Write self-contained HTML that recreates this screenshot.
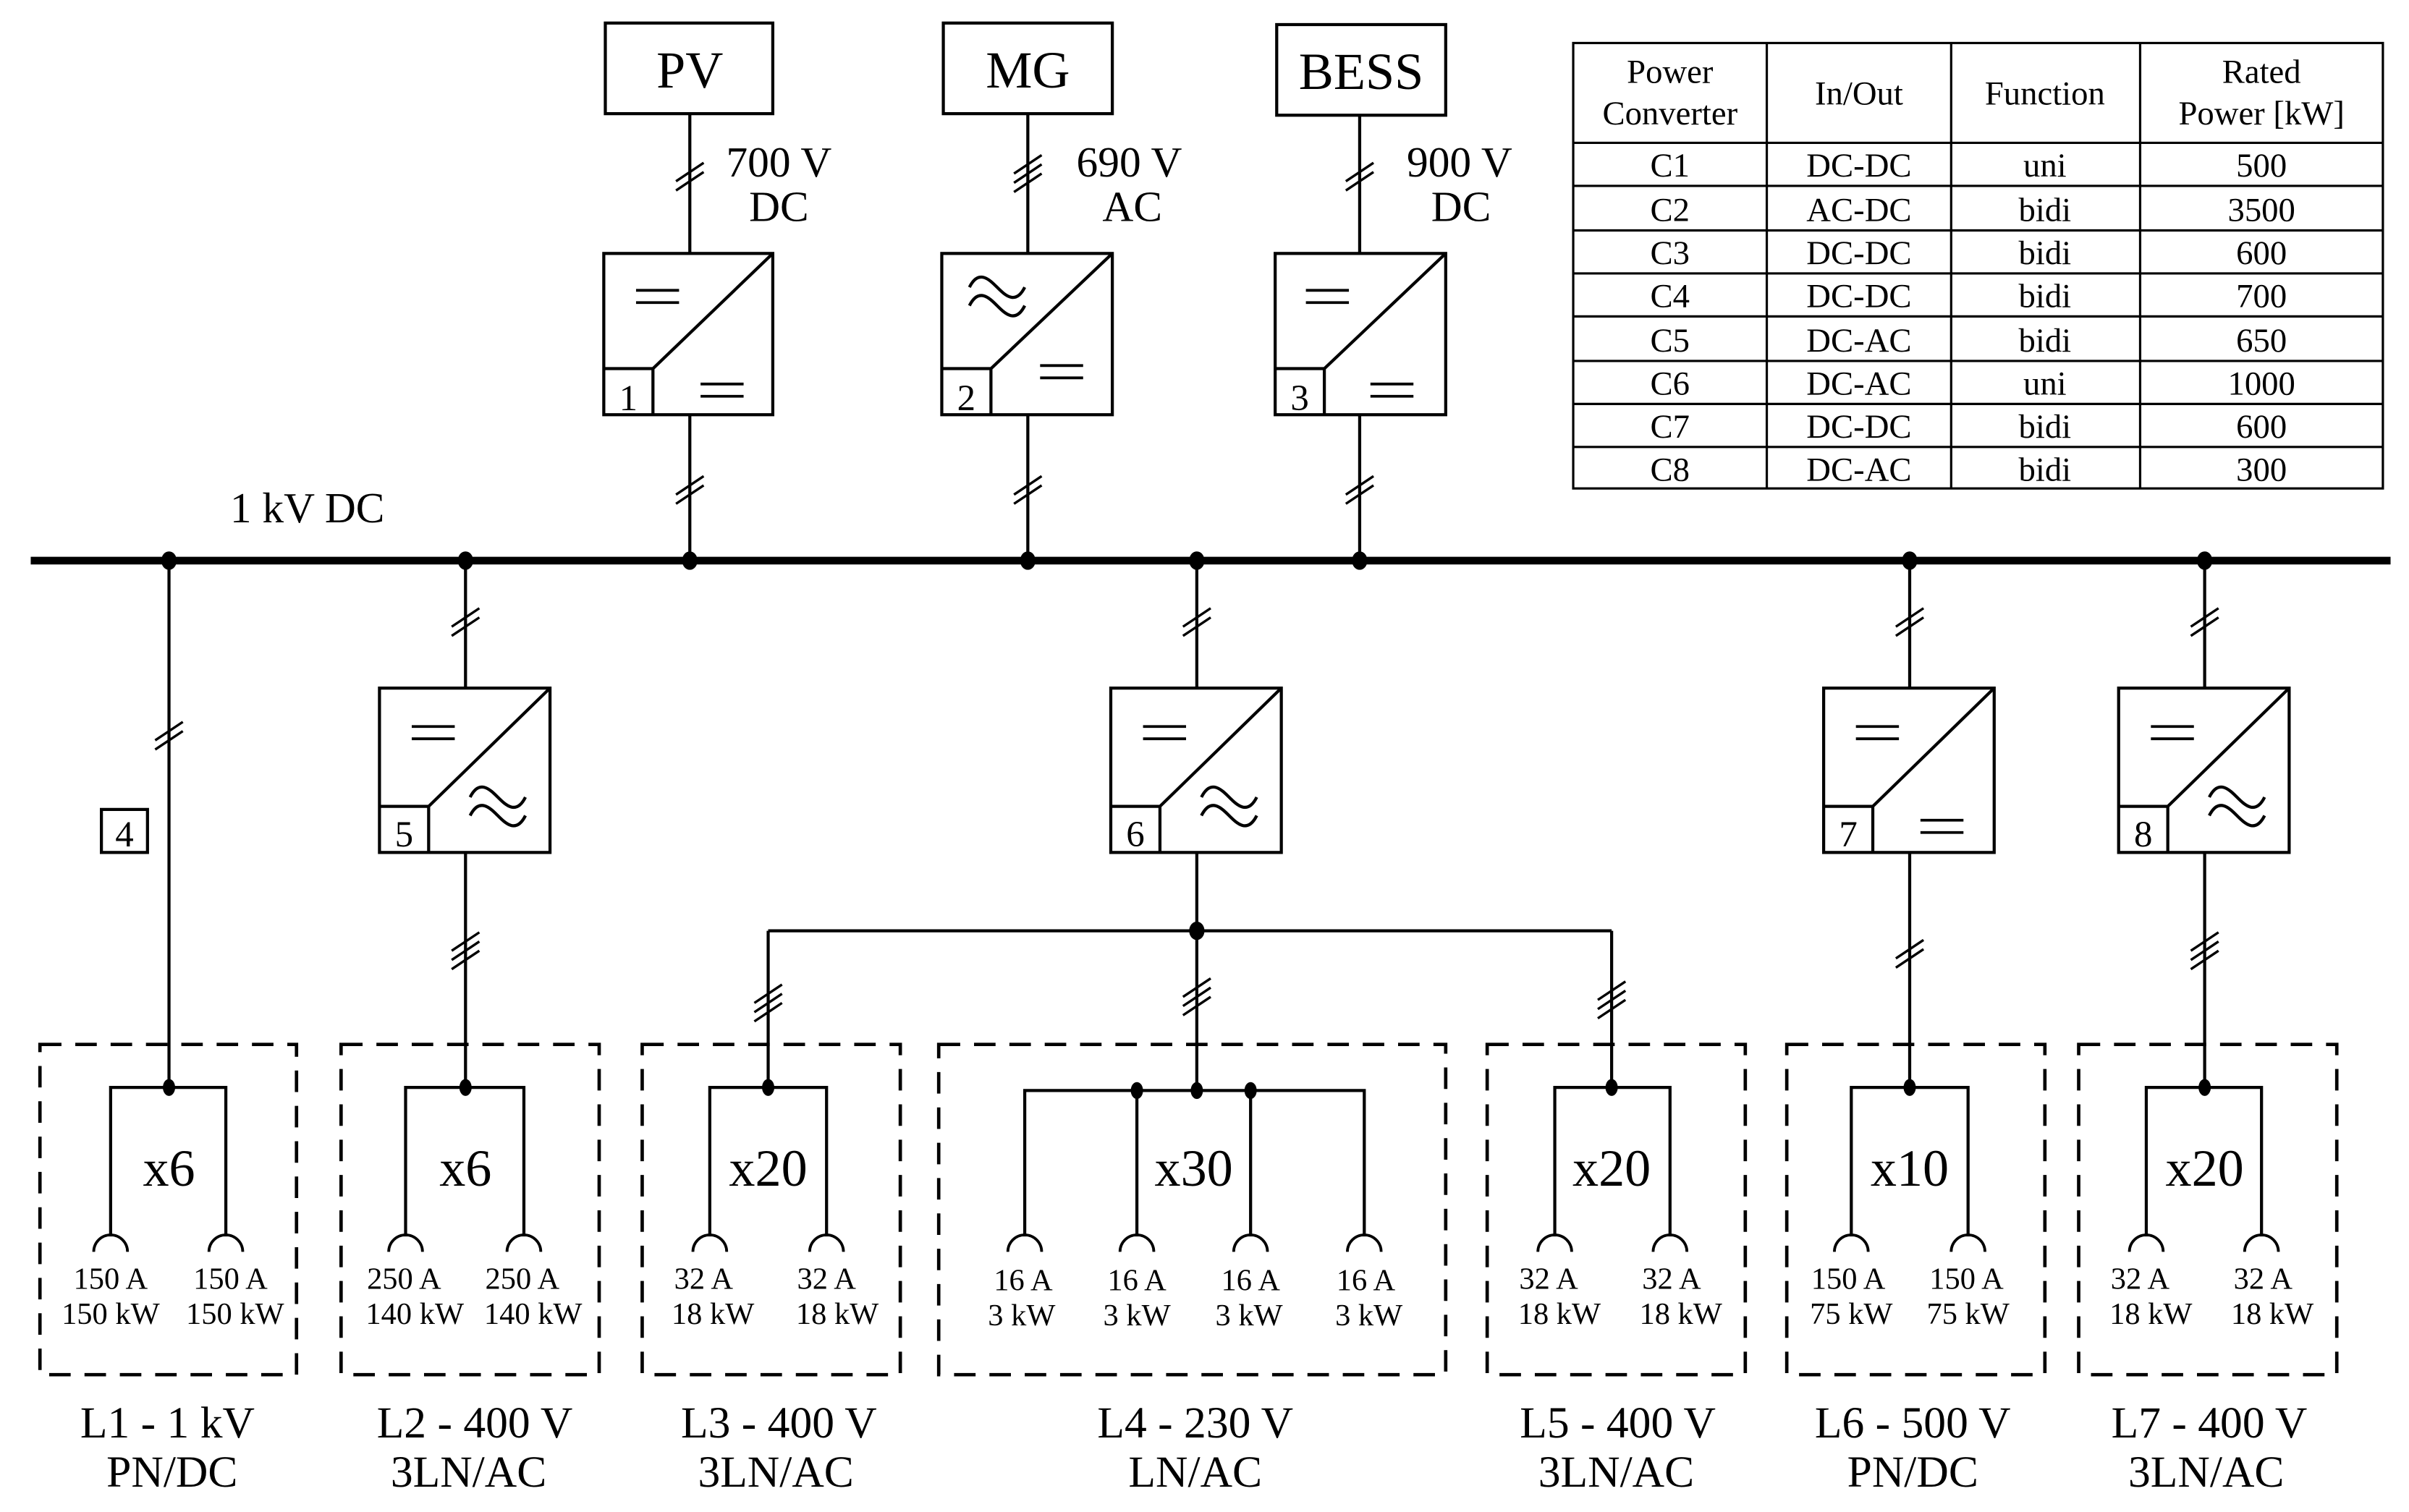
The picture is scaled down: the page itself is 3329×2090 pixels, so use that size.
<!DOCTYPE html>
<html><head><meta charset="utf-8"><style>html,body{margin:0;padding:0;background:#fff}svg{display:block}text{font-family:"Liberation Serif",serif;fill:#000}</style></head>
<body>
<svg width="3329" height="2090" viewBox="0 0 1568 984.4" xmlns="http://www.w3.org/2000/svg">
<defs>
<g id="s2" stroke="#000" stroke-width="1.6"><line x1="-9" y1="4" x2="9" y2="-8"/><line x1="-9" y1="10" x2="9" y2="-2"/></g>
<g id="s3" stroke="#000" stroke-width="1.6"><line x1="-9" y1="1" x2="9" y2="-11"/><line x1="-9" y1="7" x2="9" y2="-5"/><line x1="-9" y1="13" x2="9" y2="1"/></g>
<g id="eq" stroke="#000" stroke-width="1.8"><line x1="-14" y1="-4" x2="14" y2="-4"/><line x1="-14" y1="4" x2="14" y2="4"/></g>
<g id="ac" stroke="#000" stroke-width="2" fill="none"><path d="M-18,-4 C-12,-16 -5,-9 0,-4 C5,1 12,8 18,-4"/><path d="M-18,8 C-12,-4 -5,3 0,8 C5,13 12,20 18,8"/></g>
<g id="sock" fill="none" stroke="#000" stroke-width="1.8"><path d="M-11,820 A11,11 0 0 1 11,820"/></g>
</defs>
<g fill="none" stroke="#000" stroke-width="2">
<rect x="394" y="15" width="109" height="59"/><rect x="614" y="15" width="110" height="59"/><rect x="831" y="16" width="110" height="59"/>
<rect x="393" y="165" width="110" height="105"/><path d="M393,240 H425 V270 M425,240 L503,165"/>
<rect x="613" y="165" width="111" height="105"/><path d="M613,240 H645 V270 M645,240 L724,165"/>
<rect x="830" y="165" width="111" height="105"/><path d="M830,240 H862 V270 M862,240 L941,165"/>
<path d="M449,74 V165 M449,270 V365 M669,74 V165 M669,270 V365 M885,75 V165 M885,270 V365"/>
<rect x="247" y="448" width="111" height="107"/><path d="M247,525 H279 V555 M279,525 L358,448"/>
<rect x="723" y="448" width="111" height="107"/><path d="M723,525 H755 V555 M755,525 L834,448"/>
<rect x="1187" y="448" width="111" height="107"/><path d="M1187,525 H1219 V555 M1219,525 L1298,448"/>
<rect x="1379" y="448" width="111" height="107"/><path d="M1379,525 H1411 V555 M1411,525 L1490,448"/>
<rect x="66" y="527" width="30" height="28"/>
<path d="M110,365 V708 M303,365 V448 M303,555 V708 M779,365 V448 M779,555 V710 M500,606 H1049 M500,606 V708 M1049,606 V708 M1243,365 V448 M1243,555 V708 M1435,365 V448 M1435,555 V708"/>
<path d="M72,805 V708 H147 V805 M264,805 V708 H341 V805 M462,805 V708 H538 V805 M1012,805 V708 H1087 V805 M1205,805 V708 H1281 V805 M1397,805 V708 H1472 V805 M667,805 V710 H888 V805 M740,710 V805 M814,710 V805"/>
</g>
<g fill="none" stroke="#000" stroke-width="2.2" stroke-dasharray="14,9">
<rect x="26" y="680" width="167" height="215"/><rect x="222" y="680" width="168" height="215"/><rect x="418" y="680" width="168" height="215"/><rect x="611" y="680" width="330" height="215"/><rect x="968" y="680" width="168" height="215"/><rect x="1163" y="680" width="168" height="215"/><rect x="1353" y="680" width="168" height="215"/>
</g>
<line x1="20" y1="365" x2="1556" y2="365" stroke="#000" stroke-width="5"/>
<g fill="#000">
<ellipse cx="110" cy="365" rx="5" ry="6"/><ellipse cx="303" cy="365" rx="5" ry="6"/><ellipse cx="449" cy="365" rx="5" ry="6"/><ellipse cx="669" cy="365" rx="5" ry="6"/><ellipse cx="779" cy="365" rx="5" ry="6"/><ellipse cx="885" cy="365" rx="5" ry="6"/><ellipse cx="1243" cy="365" rx="5" ry="6"/><ellipse cx="1435" cy="365" rx="5" ry="6"/>
<ellipse cx="779" cy="606" rx="5" ry="6"/>
<ellipse cx="110" cy="708" rx="4" ry="5.5"/><ellipse cx="303" cy="708" rx="4" ry="5.5"/><ellipse cx="500" cy="708" rx="4" ry="5.5"/><ellipse cx="1049" cy="708" rx="4" ry="5.5"/><ellipse cx="1243" cy="708" rx="4" ry="5.5"/><ellipse cx="1435" cy="708" rx="4" ry="5.5"/>
<ellipse cx="740" cy="710" rx="4" ry="5.5"/><ellipse cx="779" cy="710" rx="4" ry="5.5"/><ellipse cx="814" cy="710" rx="4" ry="5.5"/>
</g>
<use href="#s2" x="449" y="114"/><use href="#s3" x="669" y="112"/><use href="#s2" x="885" y="114"/>
<use href="#s2" x="449" y="318"/><use href="#s2" x="669" y="318"/><use href="#s2" x="885" y="318"/>
<use href="#s2" x="303" y="404"/><use href="#s2" x="779" y="404"/><use href="#s2" x="1243" y="404"/><use href="#s2" x="1435" y="404"/>
<use href="#s2" x="110" y="478"/>
<use href="#s3" x="303" y="618"/><use href="#s3" x="1435" y="618"/><use href="#s2" x="1243" y="620"/>
<use href="#s3" x="500" y="652"/><use href="#s3" x="779" y="648"/><use href="#s3" x="1049" y="650"/>
<use href="#eq" x="428" y="193"/><use href="#eq" x="470" y="254"/>
<use href="#ac" x="649" y="191"/><use href="#eq" x="691" y="242"/>
<use href="#eq" x="864" y="193"/><use href="#eq" x="906" y="254"/>
<use href="#eq" x="282" y="477"/><use href="#ac" x="324" y="523"/>
<use href="#eq" x="758" y="477"/><use href="#ac" x="800" y="523"/>
<use href="#eq" x="1222" y="477"/><use href="#eq" x="1264" y="538"/>
<use href="#eq" x="1414" y="477"/><use href="#ac" x="1456" y="523"/>
<use href="#sock" x="72" y="-5"/><use href="#sock" x="147" y="-5"/><use href="#sock" x="264" y="-5"/><use href="#sock" x="341" y="-5"/><use href="#sock" x="462" y="-5"/><use href="#sock" x="538" y="-5"/><use href="#sock" x="667" y="-5"/><use href="#sock" x="740" y="-5"/><use href="#sock" x="814" y="-5"/><use href="#sock" x="888" y="-5"/><use href="#sock" x="1012" y="-5"/><use href="#sock" x="1087" y="-5"/><use href="#sock" x="1205" y="-5"/><use href="#sock" x="1281" y="-5"/><use href="#sock" x="1397" y="-5"/><use href="#sock" x="1472" y="-5"/>
<g font-size="34" text-anchor="middle">
<text x="449" y="57">PV</text><text x="669" y="57">MG</text><text x="886" y="58">BESS</text>
</g>
<g font-size="28" text-anchor="middle">
<text x="507" y="115">700 V</text><text x="507" y="144">DC</text>
<text x="735" y="115">690 V</text><text x="737" y="144">AC</text>
<text x="950" y="115">900 V</text><text x="951" y="144">DC</text>
<text x="200" y="340">1 kV DC</text>
</g>
<g font-size="24" text-anchor="middle">
<text x="409" y="267">1</text><text x="629" y="267">2</text><text x="846" y="267">3</text>
<text x="81" y="551">4</text><text x="263" y="551">5</text><text x="739" y="551">6</text><text x="1203" y="551">7</text><text x="1395" y="551">8</text>
</g>
<g font-size="34" text-anchor="middle">
<text x="110" y="772">x6</text><text x="303" y="772">x6</text><text x="500" y="772">x20</text><text x="777" y="772">x30</text><text x="1049" y="772">x20</text><text x="1243" y="772">x10</text><text x="1435" y="772">x20</text>
</g>
<g font-size="20" text-anchor="middle">
<text x="72" y="839">150 A</text><text x="72" y="862">150 kW</text><text x="150" y="839">150 A</text><text x="153" y="862">150 kW</text>
<text x="263" y="839">250 A</text><text x="270" y="862">140 kW</text><text x="340" y="839">250 A</text><text x="347" y="862">140 kW</text>
<text x="458" y="839">32 A</text><text x="464" y="862">18 kW</text><text x="538" y="839">32 A</text><text x="545" y="862">18 kW</text>
<text x="666" y="840">16 A</text><text x="665" y="863">3 kW</text><text x="740" y="840">16 A</text><text x="740" y="863">3 kW</text><text x="814" y="840">16 A</text><text x="813" y="863">3 kW</text><text x="889" y="840">16 A</text><text x="891" y="863">3 kW</text>
<text x="1008" y="839">32 A</text><text x="1015" y="862">18 kW</text><text x="1088" y="839">32 A</text><text x="1094" y="862">18 kW</text>
<text x="1203" y="839">150 A</text><text x="1205" y="862">75 kW</text><text x="1280" y="839">150 A</text><text x="1281" y="862">75 kW</text>
<text x="1393" y="839">32 A</text><text x="1400" y="862">18 kW</text><text x="1473" y="839">32 A</text><text x="1479" y="862">18 kW</text>
</g>
<g font-size="29" text-anchor="middle">
<text x="109" y="936">L1 - 1 kV</text><text x="112" y="968">PN/DC</text>
<text x="309" y="936">L2 - 400 V</text><text x="305" y="968">3LN/AC</text>
<text x="507" y="936">L3 - 400 V</text><text x="505" y="968">3LN/AC</text>
<text x="778" y="936">L4 - 230 V</text><text x="778" y="968">LN/AC</text>
<text x="1053" y="936">L5 - 400 V</text><text x="1052" y="968">3LN/AC</text>
<text x="1245" y="936">L6 - 500 V</text><text x="1245" y="968">PN/DC</text>
<text x="1438" y="936">L7 - 400 V</text><text x="1436" y="968">3LN/AC</text>
</g>
<g fill="none" stroke="#000" stroke-width="1.5">
<rect x="1024" y="28" width="527" height="290"/>
<path d="M1150,28 V318 M1270,28 V318 M1393,28 V318 M1024,93 H1551 M1024,121 H1551 M1024,150 H1551 M1024,178 H1551 M1024,206 H1551 M1024,235 H1551 M1024,263 H1551 M1024,291 H1551"/>
</g>
<g font-size="22" text-anchor="middle">
<text x="1087" y="54">Power</text><text x="1087" y="81">Converter</text><text x="1210" y="68">In/Out</text><text x="1331" y="68">Function</text><text x="1472" y="54">Rated</text><text x="1472" y="81">Power [kW]</text>
<text x="1087" y="115">C1</text><text x="1210" y="115">DC-DC</text><text x="1331" y="115">uni</text><text x="1472" y="115">500</text>
<text x="1087" y="144">C2</text><text x="1210" y="144">AC-DC</text><text x="1331" y="144">bidi</text><text x="1472" y="144">3500</text>
<text x="1087" y="172">C3</text><text x="1210" y="172">DC-DC</text><text x="1331" y="172">bidi</text><text x="1472" y="172">600</text>
<text x="1087" y="200">C4</text><text x="1210" y="200">DC-DC</text><text x="1331" y="200">bidi</text><text x="1472" y="200">700</text>
<text x="1087" y="229">C5</text><text x="1210" y="229">DC-AC</text><text x="1331" y="229">bidi</text><text x="1472" y="229">650</text>
<text x="1087" y="257">C6</text><text x="1210" y="257">DC-AC</text><text x="1331" y="257">uni</text><text x="1472" y="257">1000</text>
<text x="1087" y="285">C7</text><text x="1210" y="285">DC-DC</text><text x="1331" y="285">bidi</text><text x="1472" y="285">600</text>
<text x="1087" y="313">C8</text><text x="1210" y="313">DC-AC</text><text x="1331" y="313">bidi</text><text x="1472" y="313">300</text>
</g>
</svg>
</body></html>
